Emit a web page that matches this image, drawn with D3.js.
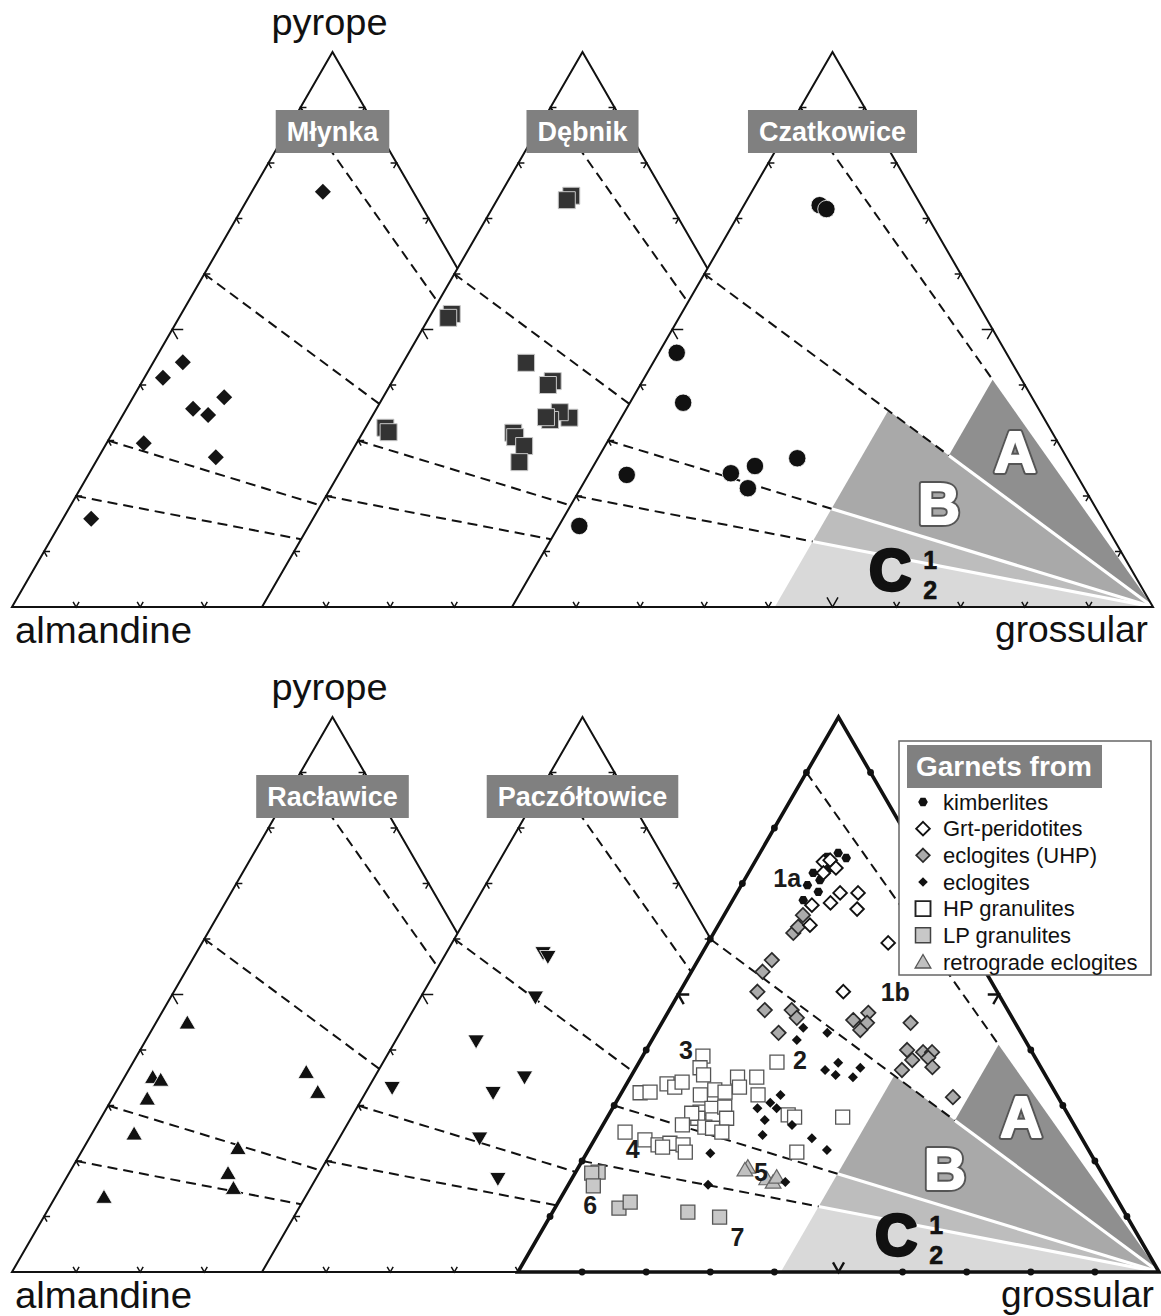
<!DOCTYPE html>
<html><head><meta charset="utf-8">
<script src="https://cdn.jsdelivr.net/npm/d3@7"></script>
<style>body{margin:0;background:#fff}svg{display:block}</style>
</head><body>
<svg id="c" width="1161" height="1316"></svg>
<script>
// ================= DATA =================
// compositions as [pyrope %, grossular %]; almandine = 100 - pyrope - grossular
const endMembers = ["pyrope", "almandine", "grossular"];
const localitiesTop = ["Młynka", "Dębnik", "Czatkowice"];
const localitiesBottom = ["Racławice", "Paczółtowice"];

const mlynka = [[74.8,11.1],[44.1,4.6],[41.3,2.9],[37.8,14.2],[35.7,10.4],[34.6,13.3],[29.5,5.8],[27.0,18.3],[15.9,4.4]];
const debnik = [[74.1,11.2],[73.3,10.9],[52.8,3.2],[52.1,3.0],[32.3,3.1],[31.5,4.0],[44.0,19.2],[40.7,25.0],[40.0,24.6],
  [34.1,30.9],[35.1,28.9],[33.7,28.1],[34.2,27.2],[31.4,23.5],[30.6,24.2],[29.0,26.4],[26.1,27.1]];
const czatkowice = [[72.4,11.8],[71.7,13.2],[45.8,2.8],[36.8,8.3],[23.8,6.0],[24.1,22.1],[25.4,25.2],[21.4,26.1],[14.6,3.2],[26.8,31.1]];
const raclawice = [[44.9,4.9],[35.1,4.4],[34.6,5.9],[31.2,5.5],[24.9,6.6],[22.3,24.1],[17.8,24.8],[15.1,27.0],[13.5,7.6],[36.0,27.9],[32.4,31.5]];
const paczoltowice = [[57.5,15.1],[56.8,16.2],[49.5,17.9],[41.6,12.6],[35.1,23.4],[32.3,19.9],[33.2,3.7],[24.1,21.9],[16.8,28.4]];

// reference garnets
const kimberlites = [[75.5,12.2],[74.6,13.9],[74.8,10.8],[71.9,10.1],[70.6,11.8],[68.5,12.6],[69.7,10.3],[67.0,11.0],[72.8,12.3]];
const grtPeridotites = [[73.9,10.7],[74.2,11.6],[72.8,13.2],[71.9,11.7],[68.3,16.1],[66.5,15.5],[68.3,18.9],[65.4,20.2],[62.5,14.3],[59.3,28.1],[50.5,25.5],[66.1,12.8]];
const eclogitesUHP = [[64.3,12.3],[61.1,12.4],[62.2,12.6],[56.2,11.5],[54.1,11.1],[50.5,12.1],[47.2,14.9],[47.2,19.1],[43.1,19.1],[45.8,20.6],
  [45.4,29.6],[46.7,31.3],[44.9,32.0],[43.6,31.6],[44.9,38.8],[40.0,40.7],[38.2,42.4],[39.6,43.4],[39.6,44.8],[38.6,44.7],[36.9,46.2],[36.4,41.7],[31.5,52.1]];
const eclogites = [[44.0,22.5],[43.1,26.7],[37.7,31.1],[36.4,29.7],[35.5,31.8],[36.8,35.0],[35.1,34.7],[31.9,25.0],[30.5,24.1],[29.5,25.6],
  [27.4,24.8],[26.5,29.5],[24.1,33.8],[22.0,37.2],[16.2,33.6],[24.7,25.8],[21.4,19.3],[15.7,21.8],[29.5,22.6],[41.8,22.6]];
const hpGranulites = [[38.9,9.4],[36.8,10.0],[35.5,11.2],[32.3,2.9],[32.4,4.4],[33.9,6.3],[33.3,7.8],[34.2,8.5],[31.9,12.5],[32.8,14.3],
  [32.4,16.1],[35.1,16.7],[33.3,17.9],[35.1,19.7],[31.9,21.5],[37.8,21.5],[28.8,14.0],[29.5,15.5],[27.4,16.7],[29.7,17.4],[27.7,18.7],
  [27.7,14.2],[28.6,12.8],[26.5,12.4],[26.1,16.1],[25.9,17.4],[25.2,19.2],[25.2,4.1],[23.8,7.9],[22.9,10.4],[23.2,12.1],[22.9,14.3],
  [21.6,15.3],[22.5,11.3],[27.9,36.7],[21.6,32.7],[28.3,28.0],[27.9,29.2]];
const lpGranulites = [[18.0,3.5],[17.8,2.6],[15.5,4.0],[11.5,10.0],[12.6,11.2],[10.8,21.1],[9.9,26.5]];
const retroEclogites = [[18.9,26.4],[18.4,26.2],[16.8,30.4],[16.2,31.7],[17.1,31.8]];

const legendItems = ["kimberlites","Grt-peridotites","eclogites (UHP)","eclogites","HP granulites","LP granulites","retrograde eclogites"];
const legendTitle = "Garnets from";
const groupLabels = ["1a","1b","2","3","4","5","6","7"];
const groupLabelPos = [[71.0,6.5],[50.5,33.6],[38.2,24.9],[40.0,6.2],[22.2,6.8],[18.0,28.9],[12.1,5.2],[6.3,31.1]];

// field boundaries: lines of constant Prp/(Prp+Alm) radiating from grossular corner
const boundaryRatio = [0.9, 0.6, 0.3, 0.2];
const boundaryDashEnd = [0.545, 0.545, 0.41, 0.41];   // grossular fraction where the dashed part ends
const whiteLineRatio = [0.6, 0.3, 0.2];
const whiteLineStart = [0.545, 0.41, 0.41];
const fieldNames = ["A","B","C1","C2"];
const fieldRatioLow = [0.6, 0.3, 0.2, 0.0];
const fieldRatioHigh = [0.9, 0.6, 0.3, 0.2];
const fieldGrsMin = [0.545, 0.41, 0.41, 0.41];
const fieldLabelText = ["A","B","C","1","2"];
const fieldLabelPos = [[28.0,64.5],[18.6,57.3],[6.8,55.6],[8.5,61.0],[3.1,63.7]];
const tickValues = [0.1,0.2,0.3,0.4,0.5,0.6,0.7,0.8,0.9];

// ================= LAYOUT =================
const SIDE = 641, HEIGHT = 555;
const panels = [{baseY: 607, x0: [12, 262, 512]}, {baseY: 1272, x0: [12, 262, 518]}];
const FONT = '"Liberation Sans", Arial, Helvetica, sans-serif';
const fieldFill = ["#8f8f8f", "#a9a9a9", "#bdbdbd", "#d9d9d9"];

const svg = d3.select("#c");
const defs = svg.append("defs");

function makeTri(x0, baseY) {
  const xs = d3.scaleLinear().domain([0, 1]).range([x0, x0 + SIDE]);
  const ys = d3.scaleLinear().domain([0, 1]).range([baseY, baseY - HEIGHT]);
  const p = (prp, grs) => [xs(grs + prp / 2), ys(prp)];
  const q = (r, g) => p(r * (1 - g), g);
  return {xs, ys, p, q};
}

function shape(type, s) {
  switch (type) {
    case "diamond": return `M0,${-s}L${s},0L0,${s}L${-s},0Z`;
    case "square": return `M${-s},${-s}H${s}V${s}H${-s}Z`;
    case "circle": return `M${s},0A${s},${s} 0 1,1 ${-s},0A${s},${s} 0 1,1 ${s},0Z`;
    case "triUp": return `M0,${-s}L${s*1.05},${s*0.8}L${-s*1.05},${s*0.8}Z`;
    case "triDown": return `M0,${s}L${s*1.05},${-s*0.8}L${-s*1.05},${-s*0.8}Z`;
    case "hex": return d3.range(6).map(i => (i ? "L" : "M") + [s*Math.cos(i*Math.PI/3), s*Math.sin(i*Math.PI/3)]).join("") + "Z";
  }
}

const refStyles = [
  {data: hpGranulites, type: "square", s: 7, fill: "#fff", stroke: "#555", sw: 1.3},
  {data: lpGranulites, type: "square", s: 7, fill: "#c8c8c8", stroke: "#555", sw: 1.3},
  {data: retroEclogites, type: "triUp", s: 7.5, fill: "#c0c0c0", stroke: "#666", sw: 1.2},
  {data: eclogitesUHP, type: "diamond", s: 7.2, fill: "#ababab", stroke: "#2a2a2a", sw: 1.7},
  {data: kimberlites, type: "hex", s: 4.8, fill: "#111", stroke: "none", sw: 0},
  {data: grtPeridotites, type: "diamond", s: 6.8, fill: "#fff", stroke: "#111", sw: 1.9},
  {data: eclogites, type: "diamond", s: 5, fill: "#111", stroke: "none", sw: 0}
];
const legendStyles = [
  {type: "hex", s: 4.8, fill: "#111", stroke: "none", sw: 0},
  {type: "diamond", s: 6.8, fill: "#fff", stroke: "#111", sw: 1.9},
  {type: "diamond", s: 6.8, fill: "#ababab", stroke: "#2a2a2a", sw: 1.7},
  {type: "diamond", s: 4.8, fill: "#111", stroke: "none", sw: 0},
  {type: "square", s: 7.5, fill: "#fff", stroke: "#222", sw: 1.9},
  {type: "square", s: 7.5, fill: "#c8c8c8", stroke: "#444", sw: 1.5},
  {type: "triUp", s: 7.5, fill: "#c0c0c0", stroke: "#555", sw: 1.3}
];
const localityStyles = [
  [{data: mlynka, type: "diamond", s: 8, fill: "#151515", stroke: "none", sw: 0}],
  [{data: debnik, type: "square", s: 8.5, fill: "#333", stroke: "#c8c8c8", sw: 1}],
  [{data: czatkowice, type: "circle", s: 8.7, fill: "#111", stroke: "#fff", sw: 0.8}],
  [{data: raclawice, type: "triUp", s: 7.8, fill: "#111", stroke: "#fff", sw: 0.8}],
  [{data: paczoltowice, type: "triDown", s: 7.8, fill: "#111", stroke: "#fff", sw: 0.8}],
  refStyles
];

function plotSeries(g, t, st) {
  g.append("g").selectAll("path").data(st.data).join("path")
    .attr("d", shape(st.type, st.s))
    .attr("transform", d => `translate(${t.p(d[0] / 100, d[1] / 100)})`)
    .attr("fill", st.fill).attr("stroke", st.stroke).attr("stroke-width", st.sw);
}

function chevron(pt, n, L) {
  const rot = a => [n[0]*Math.cos(a) - n[1]*Math.sin(a), n[0]*Math.sin(a) + n[1]*Math.cos(a)];
  const a1 = rot(Math.PI/6), a2 = rot(-Math.PI/6);
  return `M${pt[0]+a1[0]*L},${pt[1]+a1[1]*L}L${pt[0]},${pt[1]}L${pt[0]+a2[0]*L},${pt[1]+a2[1]*L}`;
}

const line = d3.line();

panels.forEach((P, pi) => {
  const tris = P.x0.map(x0 => makeTri(x0, P.baseY));
  const names = pi === 0 ? localitiesTop : localitiesBottom;
  const panel = svg.append("g");

  tris.forEach((t, k) => {
    const g = panel.append("g");
    const last = k === tris.length - 1;
    const heavy = pi === 1 && last;
    if (!last) {
      const n = tris[k + 1];
      const a = n.p(0, 0), b = n.p(1, 0);
      const dx = b[0] - a[0], dy = b[1] - a[1];
      const A = [a[0] - dx*0.3, a[1] - dy*0.3], B = [b[0] + dx*0.3, b[1] + dy*0.3];
      const id = `clip${pi}_${k}`;
      defs.append("clipPath").attr("id", id).append("path")
        .attr("d", `M${A}L${B}L${B[0]-3000},${B[1]}L${A[0]-3000},${A[1]}Z`);
      g.attr("clip-path", `url(#${id})`);
    }
    if (last) {
      fieldNames.forEach((f, i) => {
        g.append("path")
          .attr("d", line([t.q(fieldRatioLow[i], fieldGrsMin[i]), t.q(fieldRatioHigh[i], fieldGrsMin[i]), t.p(0, 1)]) + "Z")
          .attr("fill", fieldFill[i]);
      });
      whiteLineRatio.forEach((r, i) => {
        g.append("path").attr("d", line([t.q(r, whiteLineStart[i]), t.q(r, 1)]))
          .attr("stroke", "#fff").attr("stroke-width", 3.2).attr("fill", "none");
      });
    }
    boundaryRatio.forEach((r, i) => {
      g.append("path").attr("d", line([t.q(r, 0), t.q(r, boundaryDashEnd[i])]))
        .attr("stroke", "#111").attr("stroke-width", 2).attr("stroke-dasharray", "10,6")
        .attr("fill", "none");
    });
    // outline
    g.append("path").attr("d", line([t.p(0, 0), t.p(1, 0), t.p(0, 1)]) + "Z")
      .attr("fill", "none").attr("stroke", "#111").attr("stroke-width", heavy ? 3.6 : 2)
      .attr("stroke-linejoin", "miter");
    // ticks
    const sides = [
      {pt: v => t.p(v, 0), n: [0.866, 0.5]},
      {pt: v => t.p(0, v), n: [0, -1]},
      {pt: v => t.p(v, 1 - v), n: [-0.866, 0.5]}
    ];
    sides.forEach(sd => {
      tickValues.forEach(v => {
        const big = Math.abs(v - 0.5) < 1e-6;
        const pt = sd.pt(v);
        if (heavy && !big) {
          g.append("circle").attr("cx", pt[0]).attr("cy", pt[1]).attr("r", 3.4).attr("fill", "#111");
        } else {
          g.append("path").attr("d", chevron(pt, sd.n, big ? 11 : 6))
            .attr("fill", "none").attr("stroke", "#111").attr("stroke-width", heavy ? 2.4 : 1.5);
        }
      });
    });
    if (last) {
      const fl = svg.append("g");
      fieldLabelText.forEach((txt, i) => {
        const pos = t.p(fieldLabelPos[i][0] / 100, fieldLabelPos[i][1] / 100);
        const isAB = i < 2, isC = i === 2;
        const mk = () => fl.append("text").attr("x", pos[0]).attr("y", pos[1])
          .attr("text-anchor", "middle").attr("dominant-baseline", "central")
          .attr("font-family", FONT).attr("font-weight", "bold")
          .attr("font-size", isAB || isC ? 58 : 25).text(txt);
        if (isAB) {
          mk().attr("fill", "#555").attr("stroke", "#555").attr("stroke-width", 6).attr("stroke-linejoin", "round");
          mk().attr("fill", "#fff").attr("stroke", "#fff").attr("stroke-width", 2.2).attr("stroke-linejoin", "round");
        } else if (isC) {
          mk().attr("fill", "#111").attr("stroke", "#111").attr("stroke-width", 3.5).attr("stroke-linejoin", "round");
        } else {
          mk().attr("fill", "#111").attr("stroke", "#111").attr("stroke-width", 0.6);
        }
      });
    }
  });

  // data points
  const pts = svg.append("g");
  const offset = pi === 0 ? 0 : 3;
  tris.forEach((t, k) => {
    localityStyles[offset + k].forEach(st => plotSeries(pts, t, st));
  });
  if (pi === 1) {
    const t3 = tris[2];
    groupLabels.forEach((lb, i) => {
      const pos = t3.p(groupLabelPos[i][0] / 100, groupLabelPos[i][1] / 100);
      pts.append("text").attr("x", pos[0]).attr("y", pos[1])
        .attr("text-anchor", "middle").attr("dominant-baseline", "central")
        .attr("font-family", FONT).attr("font-weight", "bold").attr("font-size", 25)
        .attr("fill", "#1a1a1a").text(lb);
    });
  }

  // locality label boxes
  names.forEach((nm, k) => {
    const t = tris[k];
    const apex = t.p(1, 0);
    const lg = svg.append("g");
    const txt = lg.append("text").attr("x", apex[0]).attr("y", apex[1] + 79.5 + 9.5)
      .attr("text-anchor", "middle").attr("font-family", FONT).attr("font-weight", "bold")
      .attr("font-size", 27).attr("fill", "#fff").text(nm);
    const w = txt.node().getComputedTextLength() + 22;
    lg.insert("rect", "text").attr("x", apex[0] - w / 2).attr("y", apex[1] + 58).attr("width", w).attr("height", 43)
      .attr("fill", "#808080");
  });

  // end-member labels
  const t1 = tris[0], t3 = tris[2];
  const apex1 = t1.p(1, 0), alm = t1.p(0, 0), grs = t3.p(0, 1);
  svg.append("text").attr("x", apex1[0] - 3).attr("y", apex1[1] - 17).attr("text-anchor", "middle")
    .attr("font-family", FONT).attr("font-size", 36).attr("fill", "#111")
    .attr("textLength", 116).attr("lengthAdjust", "spacingAndGlyphs").text(endMembers[0]);
  svg.append("text").attr("x", alm[0] + 3).attr("y", alm[1] + 36)
    .attr("font-family", FONT).attr("font-size", 36).attr("fill", "#111")
    .attr("textLength", 177).attr("lengthAdjust", "spacingAndGlyphs").text(endMembers[1]);
  svg.append("text").attr("x", grs[0] - 5).attr("y", grs[1] + 35).attr("text-anchor", "end")
    .attr("font-family", FONT).attr("font-size", 36).attr("fill", "#111")
    .attr("textLength", 153).attr("lengthAdjust", "spacingAndGlyphs").text(endMembers[2]);
});

// legend
const lgd = svg.append("g").attr("transform", "translate(899,741)");
lgd.append("rect").attr("width", 252).attr("height", 234).attr("fill", "#fff").attr("stroke", "#666").attr("stroke-width", 1.5);
lgd.append("rect").attr("x", 8).attr("y", 4).attr("width", 195).attr("height", 43).attr("fill", "#808080");
lgd.append("text").attr("x", 17).attr("y", 35).attr("font-family", FONT).attr("font-weight", "bold")
  .attr("font-size", 28).attr("fill", "#fff").text(legendTitle);
const itemY = d3.scalePoint().domain(legendItems).range([61, 221]);
legendItems.forEach((it, i) => {
  const y = itemY(it);
  const st = legendStyles[i];
  lgd.append("path").attr("d", shape(st.type, st.s)).attr("transform", `translate(24,${y})`)
    .attr("fill", st.fill).attr("stroke", st.stroke).attr("stroke-width", st.sw);
  lgd.append("text").attr("x", 44).attr("y", y + 7.5).attr("font-family", FONT).attr("font-size", 22)
    .attr("fill", "#111").text(it);
});
</script>
</body></html>
